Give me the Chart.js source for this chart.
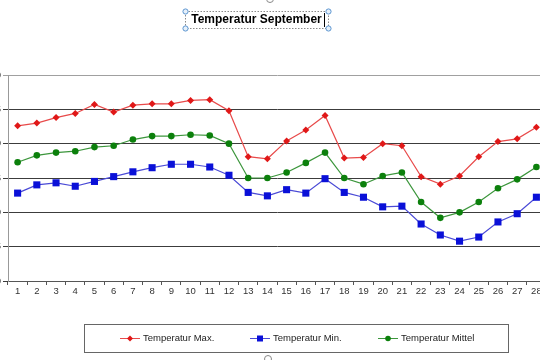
<!DOCTYPE html>
<html>
<head>
<meta charset="utf-8">
<script src="https://cdn.jsdelivr.net/npm/chart.js@4.4.1/dist/chart.umd.min.js"></script>
<style>
  html, body { margin: 0; padding: 0; background: #fff; overflow: hidden; }
  #wrap { position: relative; width: 540px; height: 360px; overflow: hidden; }
  /* chart is wider than the window, the y labels and right edge are cut off like in the screenshot */
  #chart { position: absolute; left: -22px; top: 0; }
</style>
</head>
<body>
<div id="wrap"><canvas id="chart" width="580" height="360"></canvas></div>
<script>
const chartTitle = 'Temperatur September';

const days = ['1', '2', '3', '4', '5', '6', '7', '8', '9', '10', '11', '12', '13', '14',
              '15', '16', '17', '18', '19', '20', '21', '22', '23', '24', '25', '26', '27', '28'];

const tempMax = [22.6, 23.0, 23.8, 24.4, 25.7, 24.6, 25.6, 25.8, 25.8, 26.3, 26.4, 24.8, 18.1, 17.8,
                 20.4, 22.0, 24.1, 17.9, 18.0, 20.0, 19.7, 15.2, 14.1, 15.3, 18.1, 20.3, 20.7, 22.4];

const tempMin = [12.8, 14.0, 14.3, 13.8, 14.5, 15.2, 15.9, 16.5, 17.0, 17.0, 16.6, 15.4, 12.9, 12.4,
                 13.3, 12.8, 14.9, 12.9, 12.2, 10.8, 10.9, 8.3, 6.7, 5.8, 6.4, 8.6, 9.8, 12.2];

const tempMittel = [17.3, 18.3, 18.7, 18.9, 19.5, 19.7, 20.6, 21.1, 21.1, 21.3, 21.2, 20.0, 15.0, 15.0,
                    15.8, 17.2, 18.7, 15.0, 14.1, 15.3, 15.8, 11.5, 9.2, 10.0, 11.5, 13.5, 14.8, 16.6];

const yTicks = [0, 5, 10, 15, 20, 25, 30];

const SHIFT = 22; // canvas offset to the left
const FONT = '"Liberation Sans", Arial, sans-serif';

// small marker for the legend
function drawMarker(ctx, style, x, y, r, color) {
    ctx.fillStyle = color;
    ctx.beginPath();
    if (style === 'rectRot') {
        ctx.moveTo(x, y - r);
        ctx.lineTo(x + r, y);
        ctx.lineTo(x, y + r);
        ctx.lineTo(x - r, y);
        ctx.closePath();
    } else if (style === 'rect') {
        ctx.rect(x - r, y - r, r * 2, r * 2);
    } else {
        ctx.arc(x, y, r, 0, Math.PI * 2);
    }
    ctx.fill();
}

const decorPlugin = {
    id: 'decor',
    afterDraw(chart) {
        const ctx = chart.ctx;
        ctx.save();
        ctx.translate(SHIFT, 0);

        // title + selection frame of the editor
        ctx.font = 'bold 12px ' + FONT;
        ctx.fillStyle = '#000';
        ctx.textAlign = 'center';
        ctx.textBaseline = 'middle';
        ctx.fillText(chartTitle, 256.5, 20);

        ctx.strokeStyle = '#8a8a8a';
        ctx.lineWidth = 1;
        ctx.setLineDash([1.5, 1.5]);
        ctx.strokeRect(185.5, 11.5, 143, 17);
        ctx.setLineDash([]);

        ctx.strokeStyle = '#000';
        ctx.beginPath();
        ctx.moveTo(324.5, 13);
        ctx.lineTo(324.5, 27);
        ctx.stroke();

        [[185.5, 11.5], [328.5, 11.5], [185.5, 28.5], [328.5, 28.5]].forEach(([hx, hy]) => {
            ctx.beginPath();
            ctx.arc(hx, hy, 2.6, 0, Math.PI * 2);
            ctx.fillStyle = '#e6f0fa';
            ctx.fill();
            ctx.strokeStyle = '#5b95d0';
            ctx.stroke();
        });

        // rotate handles
        ctx.strokeStyle = '#888';
        [[270, -1], [268, 359]].forEach(([hx, hy]) => {
            ctx.beginPath();
            ctx.arc(hx, hy, 3.5, 0, Math.PI * 2);
            ctx.stroke();
        });

        // legend
        ctx.strokeStyle = '#666';
        ctx.strokeRect(84.5, 324.5, 424, 28);
        const startX = [120, 250, 378];
        const markerR = [3, 3, 2.8];
        ctx.font = '9.5px ' + FONT;
        ctx.textAlign = 'left';
        chart.data.datasets.forEach((ds, i) => {
            const x = startX[i];
            const y = 338.5;
            ctx.strokeStyle = ds.borderColor;
            ctx.lineWidth = 1;
            ctx.beginPath();
            ctx.moveTo(x, y);
            ctx.lineTo(x + 20, y);
            ctx.stroke();
            drawMarker(ctx, ds.pointStyle, x + 10, y, markerR[i], ds.pointBackgroundColor);
            ctx.fillStyle = '#222';
            ctx.fillText(ds.label, x + 23, y);
        });

        ctx.restore();
    }
};

new Chart(document.getElementById('chart'), {
    type: 'line',
    data: {
        labels: days,
        datasets: [{
            label: 'Temperatur Max.',
            data: tempMax,
            borderColor: '#e84a4a',
            borderWidth: 1.2,
            pointStyle: 'rectRot',
            pointRadius: 3.5,
            pointBackgroundColor: '#e01818',
            pointBorderColor: '#e01818',
            pointBorderWidth: 0
        }, {
            label: 'Temperatur Min.',
            data: tempMin,
            borderColor: '#4a4ad6',
            borderWidth: 1.2,
            pointStyle: 'rect',
            pointRadius: 5,
            pointBackgroundColor: '#0a10d8',
            pointBorderColor: '#0a10d8',
            pointBorderWidth: 0
        }, {
            label: 'Temperatur Mittel',
            data: tempMittel,
            borderColor: '#3c963c',
            borderWidth: 1.2,
            pointStyle: 'circle',
            pointRadius: 3.3,
            pointBackgroundColor: '#0c800c',
            pointBorderColor: '#0c800c',
            pointBorderWidth: 0
        }]
    },
    options: {
        responsive: false,
        animation: false,
        events: [],
        layout: { padding: { top: 75, right: 12, bottom: 59, left: 0 } },
        plugins: {
            legend: { display: false },
            title: { display: false },
            tooltip: { enabled: false }
        },
        scales: {
            x: {
                offset: true,
                grid: { offset: true, drawOnChartArea: false, tickLength: 4, color: '#555' },
                border: { color: '#555' },
                ticks: { autoSkip: false, maxRotation: 0, padding: 1, color: '#333', font: { family: FONT, size: 9.5 } },
                afterFit(scale) { scale.height = 20; }
            },
            y: {
                min: 0,
                max: 30,
                afterBuildTicks(scale) { scale.ticks = yTicks.map(v => ({ value: v })); },
                grid: {
                    tickLength: 5,
                    color: (c) => (c.tick && c.tick.value === 30 ? '#a0a0a0' : '#3c3c3c')
                },
                border: { color: '#999' },
                ticks: { padding: 2, color: '#333', font: { family: FONT, size: 9.5 } },
                afterFit(scale) { scale.width = 30; }
            }
        }
    },
    plugins: [decorPlugin]
});
</script>
</body>
</html>
